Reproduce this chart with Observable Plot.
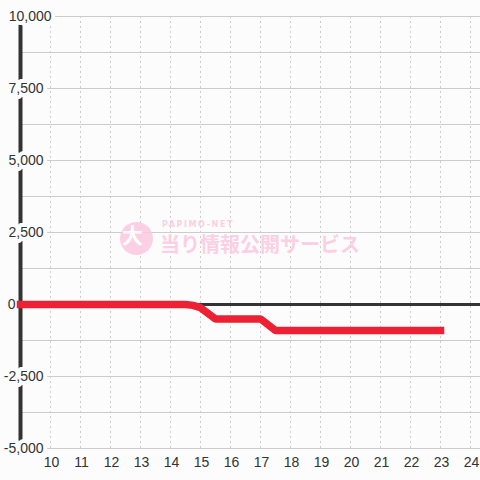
<!DOCTYPE html>
<html>
<head>
<meta charset="utf-8">
<script src="https://cdn.jsdelivr.net/npm/d3@7"></script>
<script src="https://cdn.jsdelivr.net/npm/@observablehq/plot@0.6"></script>
<style>
  html, body { margin: 0; padding: 0; background: #fbfcfb; }
  #wrap { position: relative; width: 480px; height: 480px; }
  #wm { position: absolute; left: 0; top: 0; width: 480px; height: 480px; pointer-events: none; opacity: 0.85; }
  #wm .circ { position: absolute; left: 120px; top: 222px; width: 33px; height: 33px; border-radius: 50%; background: #fbc9e0; }
  #wm .circ span { position: absolute; left: 2px; top: 0px; font: bold 21px "Noto Sans CJK JP", sans-serif; color: #fff; line-height: 24px; }
  #wm .small { position: absolute; left: 162px; top: 220px; font: bold 8px "DejaVu Sans", sans-serif; letter-spacing: 1.6px; color: #fbc9e0; }
  #wm .big { position: absolute; left: 160px; top: 231px; font: bold 20px "Noto Sans CJK JP", sans-serif; color: #fbc9e0; white-space: nowrap; line-height: 26px; }
</style>
</head>
<body>
<div id="wrap"></div>
<script>
// Data
const hours = [9, 14.5, 14.75, 15, 15.5, 17, 17.5, 23];
const diff  = [0, 0, -30, -110, -500, -500, -900, -900];
const xTicks = [10, 11, 12, 13, 14, 15, 16, 17, 18, 19, 20, 21, 22, 23, 24];
const yGrid = [-5000, -3750, -2500, -1250, 0, 1250, 2500, 3750, 5000, 6250, 7500, 8750, 10000];
const yLabels = [-5000, -2500, 0, 2500, 5000, 7500, 10000];
const watermarkSmall = "PAPIMO-NET";
const watermarkBig = "当り情報公開サービス";
const watermarkIcon = "大";

const bg = "#fbfcfb";
const ink = "#333333";
const font = "'Liberation Sans', Arial, sans-serif";
const data = hours.map((h, i) => ({hour: h, diff: diff[i]}));
const fmt = d => d3.format(",")(d).replace("\u2212", "-");

const chart = Plot.plot({
  width: 480,
  height: 480,
  marginLeft: 20,
  marginRight: 0,
  marginTop: 16,
  marginBottom: 32,
  style: {background: bg, fontFamily: font},
  x: {domain: [9, 24 + 1 / 3], axis: null},
  y: {domain: [-5000, 10000], axis: null},
  marks: [
    Plot.ruleY(yGrid, {stroke: "#cccccc", strokeWidth: 1}),
    Plot.ruleX(xTicks, {y1: -5000, y2: 10000, stroke: "#cccccc", strokeWidth: 1, strokeDasharray: "2,3"}),
    Plot.ruleY([0], {stroke: ink, strokeWidth: 3}),
    Plot.ruleX([9], {y1: -5000, y2: 10000, stroke: ink, strokeWidth: 4}),
    Plot.line(data, {x: "hour", y: "diff", stroke: "#ed2034", strokeWidth: 7.5, strokeLinecap: "square", strokeLinejoin: "miter"}),
    Plot.text(yLabels.filter(d => d !== 0 && d !== 10000), {
      x: () => 9, y: d => d, text: d => fmt(d), textAnchor: "end", dx: 23,
      fill: ink, stroke: bg, strokeWidth: 8, fontSize: 14
    }),
    Plot.text(yLabels.filter(d => d === 10000), {
      x: () => 9, y: d => d, text: d => fmt(d), textAnchor: "end", dx: 31,
      fill: ink, stroke: bg, strokeWidth: 8, fontSize: 14
    }),
    Plot.text(yLabels.filter(d => d === 0), {
      x: () => 9, y: d => d, text: d => fmt(d), textAnchor: "end", dx: -5,
      fill: ink, fontSize: 14
    }),
    Plot.text(xTicks, {
      x: d => d, frameAnchor: "bottom", dy: 14, dx: 1, text: d => String(d),
      fill: ink, fontSize: 14, lineAnchor: "middle"
    })
  ]
});

const wrap = document.getElementById("wrap");
wrap.appendChild(chart);
const wm = document.createElement("div");
wm.id = "wm";
wm.innerHTML = `<div class="circ"><span>${watermarkIcon}</span></div><div class="small">${watermarkSmall}</div><div class="big">${watermarkBig}</div>`;
wrap.appendChild(wm);
</script>
</body>
</html>
